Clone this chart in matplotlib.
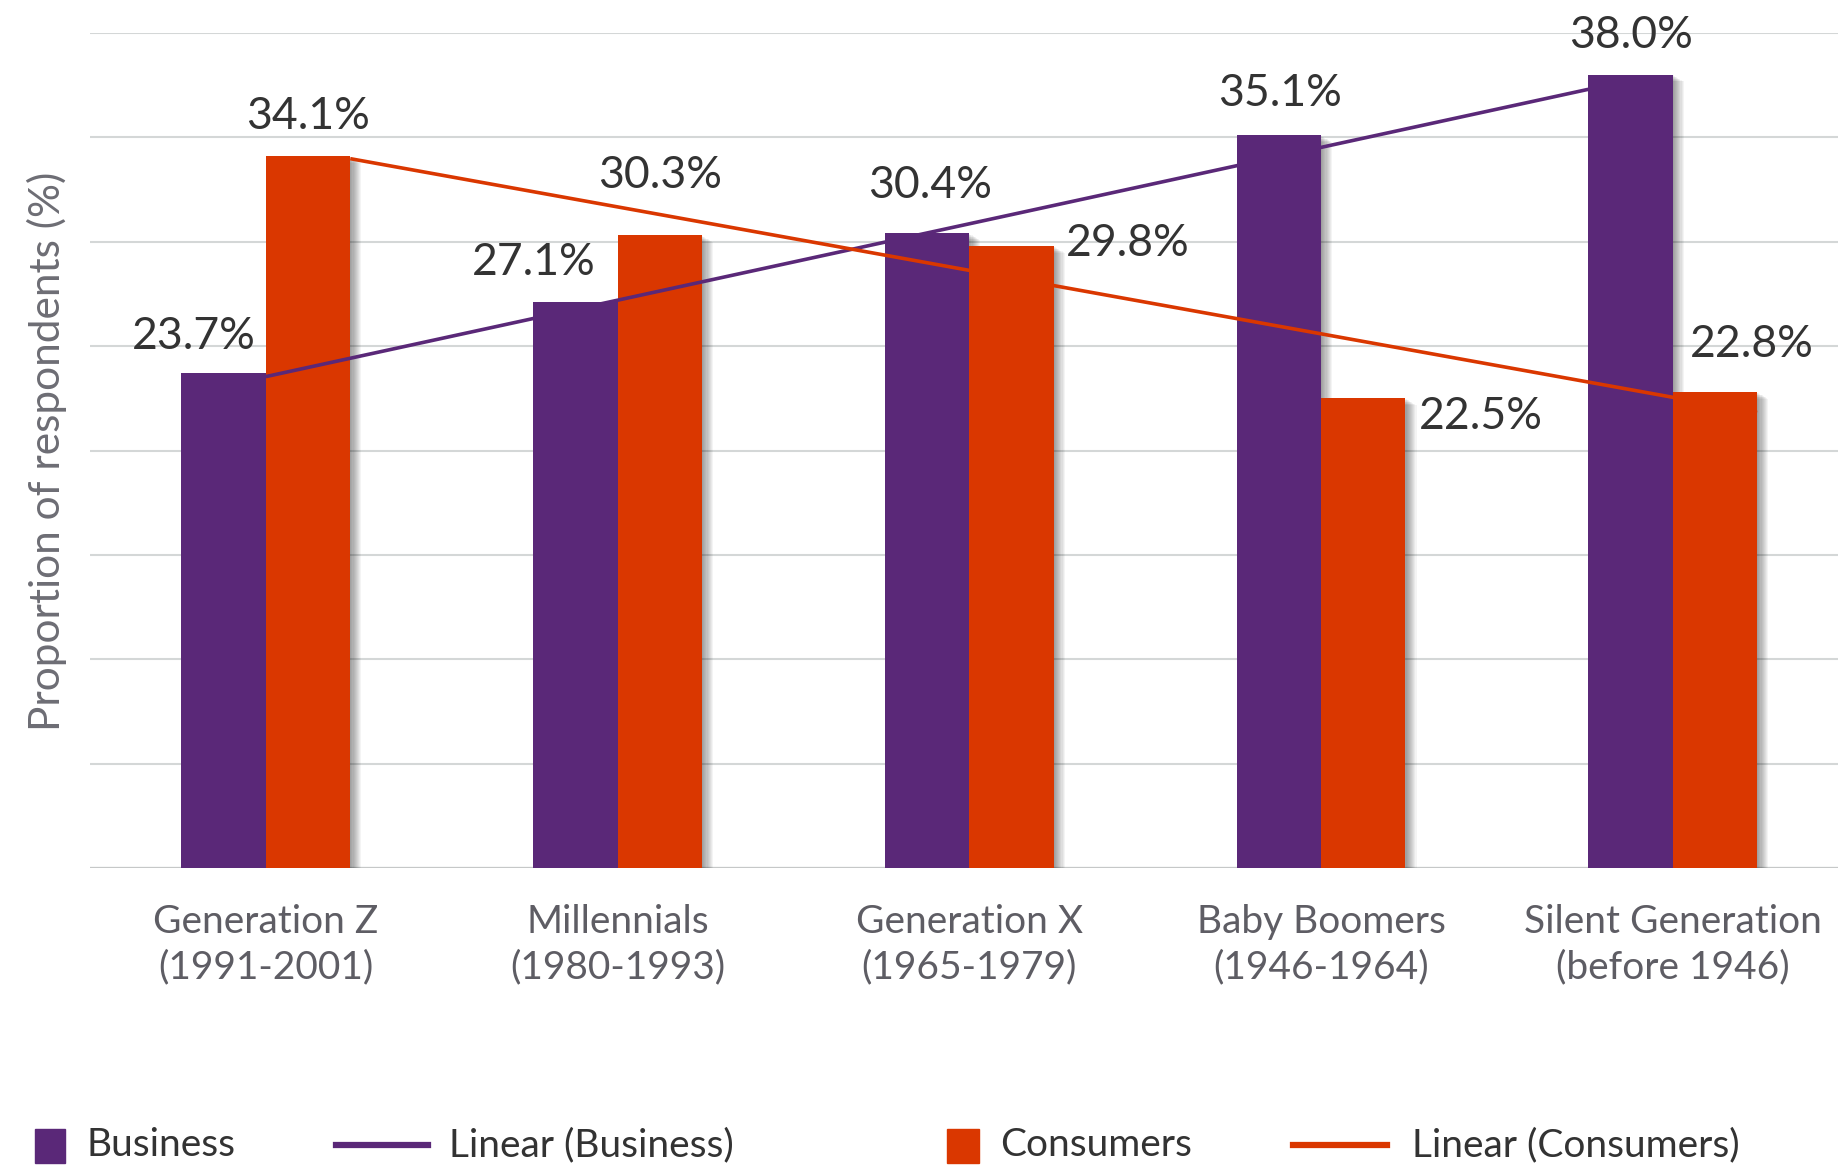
import numpy as np
import matplotlib
matplotlib.use("Agg")
import matplotlib.pyplot as plt
import matplotlib.patheffects as pe
from matplotlib.patches import Rectangle
from matplotlib.lines import Line2D

plt.rcParams['font.family'] = ['Lato', 'DejaVu Sans']

# survey data
generations = ['Generation Z\n(1991-2001)', 'Millennials\n(1980-1993)',
               'Generation X\n(1965-1979)', 'Baby Boomers\n(1946-1964)',
               'Silent Generation\n(before 1946)']
business = [23.7, 27.1, 30.4, 35.1, 38.0]
consumers = [34.1, 30.3, 29.8, 22.5, 22.8]

PURPLE = '#5a2878'
ORANGE = '#da3700'
W, H = 1838, 1167

fig = plt.figure(figsize=(W / 100, H / 100), dpi=100)
ax = fig.add_axes([90 / W, 1 - 868 / H, 1 - 90 / W, (868 - 33) / H])

x = np.arange(len(generations))
bw = 0.24

# soft drop shadow to the right of each bar
shadow = [pe.SimplePatchShadow(offset=(d, -0.6 * d), shadow_rgbFace='black', alpha=0.045)
          for d in np.linspace(0.8, 8, 10)] + [pe.Normal()]

b1 = ax.bar(x - bw / 2, business, bw, color=PURPLE, zorder=2)
b2 = ax.bar(x + bw / 2, consumers, bw, color=ORANGE, zorder=3)
for r in list(b1) + list(b2):
    r.set_path_effects(shadow)

# linear trend lines
kb, cb = np.polyfit(x, business, 1)
xb = np.array([x[0], x[-1] - bw])
ax.plot(xb, kb * xb + cb, color=PURPLE, lw=2.6, zorder=5, solid_capstyle='butt')
kc, cc = np.polyfit(x, consumers, 1)
xc = np.array([x[0], x[-1]])
ax.plot(xc + bw, kc * xc + cc, color=ORANGE, lw=2.6, zorder=5, solid_capstyle='butt')

# value labels (offsets in pixels from the bar top)
biz_off = [(-30, 37), (-42, 40), (3, 48), (1, 42), (1, 39)]
con_off = [(0, 40), (0, 60), (116, 2), (118, -18), (37, 48)]
for i in range(len(x)):
    ax.annotate(f'{business[i]:.1f}%', (x[i] - bw / 2, business[i]), xytext=biz_off[i],
                textcoords='offset pixels', ha='center', va='center',
                fontsize=32, color='#333333', zorder=6)
    ax.annotate(f'{consumers[i]:.1f}%', (x[i] + bw / 2, consumers[i]), xytext=con_off[i],
                textcoords='offset pixels', ha='center', va='center',
                fontsize=32, color='#333333', zorder=6)

ax.set_xlim(-0.5, 4.47)
ax.set_ylim(0, 40)
ax.set_yticks(np.arange(0, 41, 5))
ax.set_yticklabels([])
ax.grid(axis='y', color='#d4d7d7', lw=1.5)
ax.set_axisbelow(True)
ax.axhline(0, color='#c6c8c8', lw=1.6, zorder=1)
for s in ax.spines.values():
    s.set_visible(False)
ax.tick_params(length=0)
ax.set_xticks(x)
ax.set_xticklabels(generations, fontsize=28, color='#5e5d64', linespacing=1.32)
ax.tick_params(axis='x', pad=26)

fig.text(47 / W, 1 - 451 / H, 'Proportion of respondents (%)', rotation=90,
         ha='center', va='center', fontsize=30.5, color='#6d6d74')

# legend along the bottom
ly = 1 - 1145 / H
def fx(p):
    return p / W

fig.add_artist(Rectangle((fx(35), 1 - 1163 / H), 30 / W, 34 / H, color=PURPLE,
                         transform=fig.transFigure))
fig.text(fx(86), ly, 'Business', fontsize=28, color='#333333', va='center')
fig.add_artist(Line2D([fx(336), fx(428)], [ly, ly], color=PURPLE, lw=4.5,
                      transform=fig.transFigure))
fig.text(fx(449), ly, 'Linear (Business)', fontsize=28, color='#333333', va='center')
fig.add_artist(Rectangle((fx(947), 1 - 1163 / H), 32 / W, 34 / H, color=ORANGE,
                         transform=fig.transFigure))
fig.text(fx(1000), ly, 'Consumers', fontsize=28, color='#333333', va='center')
fig.add_artist(Line2D([fx(1293), fx(1387)], [ly, ly], color=ORANGE, lw=4.5,
                      transform=fig.transFigure))
fig.text(fx(1412), ly, 'Linear (Consumers)', fontsize=28, color='#333333', va='center')

fig.savefig('out.png', dpi=100)
